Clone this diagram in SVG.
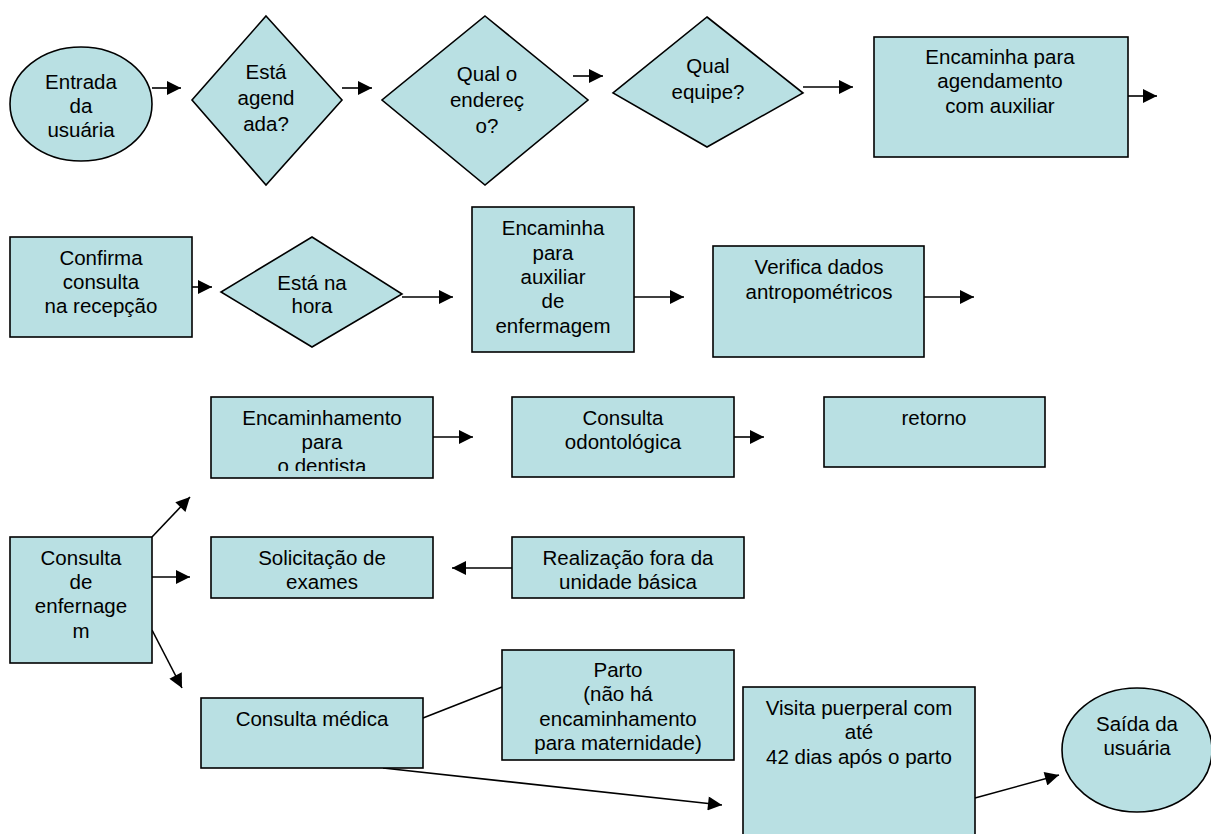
<svg xmlns="http://www.w3.org/2000/svg" width="1211" height="834" viewBox="0 0 1211 834">
<defs>
<style>
.n{fill:#b9e0e3;stroke:#000;stroke-width:1.6}
.t{font-family:"Liberation Sans",Arial,sans-serif;font-size:20.5px;fill:#000;text-anchor:middle}
.c{stroke:#000;stroke-width:1.6;fill:none}
.a{marker-end:url(#ah)}
</style>
<marker id="ah" viewBox="0 0 10 10" refX="10" refY="5" markerWidth="16" markerHeight="14" markerUnits="userSpaceOnUse" orient="auto"><path d="M0,0 L10,5 L0,10 z" fill="#000"/></marker>
<clipPath id="clipDent"><rect x="211" y="397" width="222" height="74"/></clipPath>
</defs>
<rect width="1211" height="834" fill="#fff"/>
<g id="connectors">
<line class="c a" x1="152" y1="88" x2="181" y2="88"/>
<line class="c a" x1="342" y1="88" x2="372" y2="88"/>
<line class="c a" x1="573" y1="76" x2="603" y2="76"/>
<line class="c a" x1="803" y1="87" x2="853" y2="87"/>
<line class="c a" x1="1128" y1="96" x2="1157" y2="96"/>
<line class="c a" x1="192" y1="287" x2="212" y2="287"/>
<line class="c a" x1="402" y1="297" x2="453" y2="297"/>
<line class="c a" x1="634" y1="297" x2="684" y2="297"/>
<line class="c a" x1="924" y1="297" x2="974" y2="297"/>
<line class="c a" x1="433" y1="437" x2="473" y2="437"/>
<line class="c a" x1="734" y1="437" x2="764" y2="437"/>
<line class="c a" x1="152" y1="537" x2="190" y2="497"/>
<line class="c a" x1="152" y1="577" x2="190" y2="577"/>
<line class="c a" x1="512" y1="568" x2="452" y2="568"/>
<line class="c a" x1="152" y1="630" x2="182" y2="688"/>
<line class="c" x1="423" y1="718" x2="502" y2="687"/>
<line class="c a" x1="383" y1="768" x2="722" y2="805"/>
<line class="c a" x1="975" y1="798" x2="1059" y2="775"/>
</g>
<g id="entrada">
<ellipse class="n" cx="81" cy="104" rx="71" ry="57"/>
<text class="t" x="81" y="89">Entrada</text>
<text class="t" x="81" y="113">da</text>
<text class="t" x="81" y="137">usuária</text>
</g>
<g id="agendada">
<polygon class="n" points="266,16 342,100 266,185 192,100"/>
<text class="t" x="266" y="79">Está</text>
<text class="t" x="266" y="105">agend</text>
<text class="t" x="266" y="131">ada?</text>
</g>
<g id="endereco">
<polygon class="n" points="485,16 588,100 485,185 382,100"/>
<text class="t" x="487" y="81">Qual o</text>
<text class="t" x="487" y="107">endereç</text>
<text class="t" x="487" y="133">o?</text>
</g>
<g id="equipe">
<polygon class="n" points="707,17 803,93 707,147 613,93"/>
<text class="t" x="708" y="73">Qual</text>
<text class="t" x="708" y="99">equipe?</text>
</g>
<g id="agendamento">
<rect class="n" x="874" y="37" width="254" height="120"/>
<text class="t" x="1000" y="64">Encaminha para</text>
<text class="t" x="1000" y="88">agendamento</text>
<text class="t" x="1000" y="113">com auxiliar</text>
</g>
<g id="confirma">
<rect class="n" x="10" y="237" width="182" height="100"/>
<text class="t" x="101" y="265">Confirma</text>
<text class="t" x="101" y="289">consulta</text>
<text class="t" x="101" y="313">na recepção</text>
</g>
<g id="hora">
<polygon class="n" points="312,237 402,294 312,347 221,292"/>
<text class="t" x="312" y="290">Está na</text>
<text class="t" x="312" y="313">hora</text>
</g>
<g id="auxiliar">
<rect class="n" x="472" y="207" width="162" height="145"/>
<text class="t" x="553" y="235">Encaminha</text>
<text class="t" x="553" y="260">para</text>
<text class="t" x="553" y="284">auxiliar</text>
<text class="t" x="553" y="308">de</text>
<text class="t" x="553" y="333">enfermagem</text>
</g>
<g id="verifica">
<rect class="n" x="713" y="246" width="211" height="111"/>
<text class="t" x="819" y="274">Verifica dados</text>
<text class="t" x="819" y="299">antropométricos</text>
</g>
<g id="dentista">
<rect class="n" x="211" y="397" width="222" height="81"/>
<g clip-path="url(#clipDent)">
<text class="t" x="322" y="425">Encaminhamento</text>
<text class="t" x="322" y="449">para</text>
<text class="t" x="322" y="473">o dentista</text>
</g>
</g>
<g id="odonto">
<rect class="n" x="512" y="397" width="222" height="80"/>
<text class="t" x="623" y="425">Consulta</text>
<text class="t" x="623" y="449">odontológica</text>
</g>
<g id="retorno">
<rect class="n" x="824" y="397" width="221" height="70"/>
<text class="t" x="934" y="425">retorno</text>
</g>
<g id="enfermagem">
<rect class="n" x="10" y="537" width="142" height="126"/>
<text class="t" x="81" y="565">Consulta</text>
<text class="t" x="81" y="589">de</text>
<text class="t" x="81" y="613">enfernage</text>
<text class="t" x="81" y="638">m</text>
</g>
<g id="exames">
<rect class="n" x="211" y="537" width="222" height="61"/>
<text class="t" x="322" y="565">Solicitação de</text>
<text class="t" x="322" y="589">exames</text>
</g>
<g id="realizacao">
<rect class="n" x="512" y="537" width="232" height="61"/>
<text class="t" x="628" y="565">Realização fora da</text>
<text class="t" x="628" y="589">unidade básica</text>
</g>
<g id="medica">
<rect class="n" x="201" y="698" width="222" height="70"/>
<text class="t" x="312" y="726">Consulta médica</text>
</g>
<g id="parto">
<rect class="n" x="502" y="650" width="232" height="110"/>
<text class="t" x="618" y="677">Parto</text>
<text class="t" x="618" y="701">(não há</text>
<text class="t" x="618" y="726">encaminhamento</text>
<text class="t" x="618" y="750">para maternidade)</text>
</g>
<g id="visita">
<rect class="n" x="743" y="687" width="232" height="160"/>
<text class="t" x="859" y="715">Visita puerperal com</text>
<text class="t" x="859" y="739">até</text>
<text class="t" x="859" y="764">42 dias após o parto</text>
</g>
<g id="saida">
<ellipse class="n" cx="1137" cy="750" rx="75" ry="62"/>
<text class="t" x="1137" y="731">Saída da</text>
<text class="t" x="1137" y="755">usuária</text>
</g>
</svg>
